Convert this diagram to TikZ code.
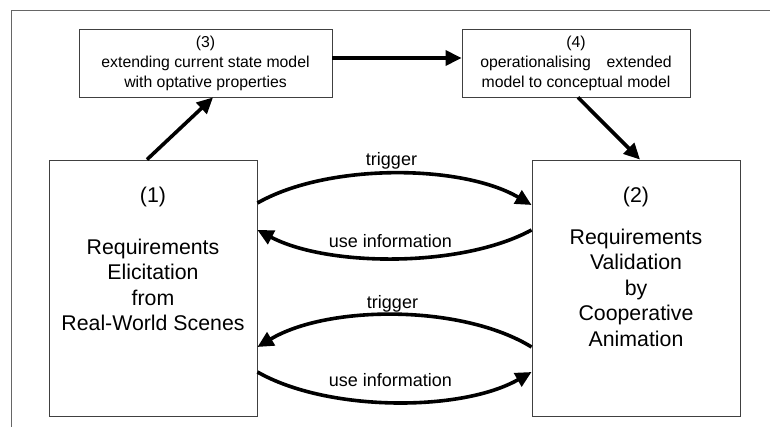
\documentclass[tikz,border=0pt]{standalone}
\usepackage{fontspec}
\setmainfont{Liberation Sans}
\usetikzlibrary{arrows.meta,positioning}

\tikzset{
  box/.style={draw=black!75, line width=0.9pt, inner sep=0pt},
  smallbox/.style={box, minimum height=68pt, align=center, font=\fontsize{15.8}{20}\selectfont},
  bigbox/.style={box, minimum width=208pt, minimum height=256pt},
  bigtxt/.style={align=center, inner sep=0pt, font=\fontsize{21.3}{25.5}\selectfont},
  flow/.style={line width=3.6pt, -{Triangle[length=16pt,width=15pt]}},
  lbl/.style={font=\fontsize{18}{21}\selectfont, inner sep=0pt, anchor=base},
}

\begin{document}
\begin{tikzpicture}[x=1pt,y=-1pt]
\useasboundingbox (0,0) rectangle (770,427);
\draw[black!60, line width=1pt] (11,427) -- (11,11) -- (770,11);

\node[smallbox, minimum width=253pt] (extend) at (205.5,63) {(3)\\extending current state model\\with optative properties};
\node[smallbox, minimum width=228pt] (operate) at (576,63) {(4)\\operationalising\quad extended\\model to conceptual model};

\node[bigbox] (elicit) at (153,288) {};
\node[bigbox] (valid) at (636,288) {};
\node[bigtxt, below=27pt of elicit.north] (elicittxt) {(1)\\[26.5pt]Requirements\\Elicitation\\from\\Real-World Scenes};
\node[bigtxt, below=27pt of valid.north] (validtxt) {(2)\\[16.5pt]Requirements\\Validation\\by\\Cooperative\\Animation};

\draw[flow] ([xshift=-6pt]elicit.north) -- ([xshift=7.5pt]extend.south);
\draw[flow] ([yshift=5pt]extend.east) -- ([yshift=5pt]operate.west);
\draw[flow] ([xshift=2pt]operate.south) -- ([xshift=4pt]valid.north);

\draw[flow] ([yshift=85pt]elicit.east) .. controls +(70,-40) and +(-70,-41) .. ([yshift=83pt]valid.west)
  node[lbl, pos=0.5, xshift=-3pt, yshift=8.6pt] (trig1) {trigger};
\draw[flow] ([yshift=58pt]valid.west) .. controls +(-70,38) and +(70,37) .. ([yshift=58pt]elicit.east)
  node[lbl, pos=0.5, xshift=-4pt, yshift=11pt] (use1) {use information};
\draw[flow] ([yshift=-59pt]valid.west) .. controls +(-70,-43) and +(70,-42) .. ([yshift=-59pt]elicit.east)
  node[lbl, pos=0.5, xshift=-2pt, yshift=7pt] (trig2) {trigger};
\draw[flow] ([yshift=-84pt]elicit.east) .. controls +(70,40) and +(-70,40) .. ([yshift=-84pt]valid.west)
  node[lbl, pos=0.5, xshift=-4pt, yshift=16pt] (use2) {use information};
\end{tikzpicture}
\end{document}
